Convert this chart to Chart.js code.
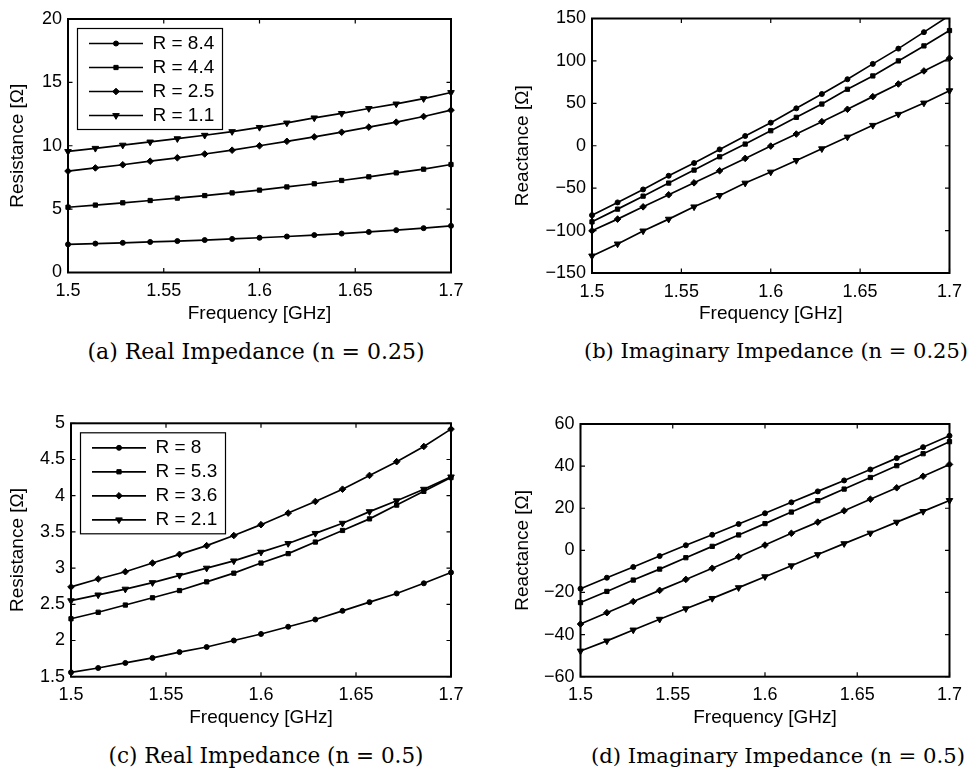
<!DOCTYPE html>
<html>
<head>
<meta charset="utf-8">
<script src="https://cdn.jsdelivr.net/npm/chart.js@4.4.1/dist/chart.umd.min.js"></script>
<style>
  html, body { margin: 0; padding: 0; background: #fff; }
  #page { position: relative; width: 970px; height: 776px; overflow: hidden; background: #fff; }
  .panel { position: absolute; }
  .panel canvas { display: block; }
  .caption {
    position: absolute; white-space: nowrap; color: #000;
    font-family: "DejaVu Serif", "Liberation Serif", serif; font-size: 21.5px;
    transform: translate(-50%, -50%);
  }
</style>
</head>
<body>
<div id="page">
  <div class="panel" style="left:0px;top:0px;"><canvas id="chartA" width="480" height="330"></canvas></div>
  <div class="panel" style="left:480px;top:0px;"><canvas id="chartB" width="490" height="330"></canvas></div>
  <div class="panel" style="left:0px;top:404px;"><canvas id="chartC" width="480" height="330"></canvas></div>
  <div class="panel" style="left:480px;top:404px;"><canvas id="chartD" width="490" height="330"></canvas></div>

  <div class="caption" style="left:256px;top:351px;font-size:22px;">(a) Real Impedance (n = 0.25)</div>
  <div class="caption" style="left:776px;top:351px;font-size:21px;">(b) Imaginary Impedance (n = 0.25)</div>
  <div class="caption" style="left:266px;top:755px;">(c) Real Impedance (n = 0.5)</div>
  <div class="caption" style="left:778px;top:755px;font-size:21.2px;">(d) Imaginary Impedance (n = 0.5)</div>
</div>

<script>
// Frequency sweep (GHz), 15 samples
const freqGHz = [1.5000, 1.5143, 1.5286, 1.5429, 1.5571, 1.5714, 1.5857, 1.6000,
                 1.6143, 1.6286, 1.6429, 1.6571, 1.6714, 1.6857, 1.7000];

// n = 0.25 : resistance [Ohm]
const resN025_R8_4 = [2.22, 2.28, 2.34, 2.41, 2.48, 2.56, 2.65, 2.74, 2.84, 2.95, 3.07, 3.20, 3.34, 3.50, 3.68];
const resN025_R4_4 = [5.15, 5.32, 5.50, 5.68, 5.87, 6.07, 6.28, 6.50, 6.75, 7.00, 7.26, 7.55, 7.86, 8.15, 8.52];
const resN025_R2_5 = [8.00, 8.25, 8.50, 8.78, 9.05, 9.35, 9.65, 10.00, 10.35, 10.70, 11.07, 11.47, 11.86, 12.31, 12.81];
const resN025_R1_1 = [9.55, 9.80, 10.05, 10.30, 10.56, 10.83, 11.12, 11.45, 11.80, 12.20, 12.55, 12.94, 13.30, 13.72, 14.20];

// n = 0.25 : reactance [Ohm]
const reacN025_R8_4 = [-81.8, -66.8, -51.5, -35.4, -20.4, -4.3, 11.5, 27.2, 44.1, 61.0, 78.4, 96.5, 114.5, 133.9, 153.5];
const reacN025_R4_4 = [-89.7, -74.7, -59.4, -44.0, -28.7, -13.0, 2.0, 17.7, 33.5, 49.2, 66.6, 82.3, 100.0, 117.7, 135.8];
const reacN025_R2_5 = [-100.3, -86.5, -72.0, -57.8, -43.7, -29.5, -14.9, -0.4, 13.8, 28.4, 43.0, 57.9, 72.8, 88.2, 103.2];
const reacN025_R1_1 = [-129.9, -115.7, -100.4, -86.5, -72.0, -58.6, -44.0, -31.0, -17.3, -3.5, 10.3, 24.1, 37.1, 50.4, 64.9];

// n = 0.5 : resistance [Ohm]
const resN05_R8   = [1.56, 1.62, 1.69, 1.76, 1.84, 1.91, 2.00, 2.09, 2.19, 2.29, 2.41, 2.53, 2.65, 2.79, 2.94];
const resN05_R5_3 = [2.30, 2.39, 2.49, 2.59, 2.69, 2.81, 2.93, 3.07, 3.20, 3.36, 3.52, 3.68, 3.87, 4.06, 4.25];
const resN05_R3_6 = [2.74, 2.85, 2.95, 3.07, 3.19, 3.31, 3.45, 3.60, 3.76, 3.92, 4.09, 4.28, 4.47, 4.68, 4.92];
const resN05_R2_1 = [2.55, 2.63, 2.71, 2.80, 2.90, 3.00, 3.10, 3.22, 3.34, 3.48, 3.62, 3.78, 3.93, 4.09, 4.26];

// n = 0.5 : reactance [Ohm]
const reacN05_R8   = [-18.2, -13.0, -7.9, -2.7, 2.4, 7.4, 12.5, 17.6, 22.8, 28.0, 33.2, 38.4, 43.8, 49.0, 54.4];
const reacN05_R5_3 = [-24.8, -19.5, -14.1, -8.9, -3.5, 1.9, 7.3, 12.7, 18.2, 23.6, 29.1, 34.6, 40.2, 45.9, 51.6];
const reacN05_R3_6 = [-35.0, -29.6, -24.3, -19.0, -13.8, -8.5, -3.0, 2.5, 8.1, 13.4, 18.8, 24.3, 29.7, 35.2, 40.8];
const reacN05_R2_1 = [-47.8, -43.0, -37.8, -32.7, -27.7, -22.8, -17.7, -12.5, -7.3, -2.0, 3.2, 8.2, 13.4, 18.5, 23.7];

// Legend labels
const labelsN025 = ['R = 8.4', 'R = 4.4', 'R = 2.5', 'R = 1.1'];
const labelsN05  = ['R = 8', 'R = 5.3', 'R = 3.6', 'R = 2.1'];

// Tick values
const freqTicks   = [1.5, 1.55, 1.6, 1.65, 1.7];
const resTicksA   = [0, 5, 10, 15, 20];
const reacTicksB  = [-150, -100, -50, 0, 50, 100, 150];
const resTicksC   = [1.5, 2, 2.5, 3, 3.5, 4, 4.5, 5];
const reacTicksD  = [-60, -40, -20, 0, 20, 40, 60];

const sansFamily = '"Liberation Sans", Arial, Helvetica, sans-serif';
Chart.defaults.font.family = sansFamily;
Chart.defaults.font.size = 18;
Chart.defaults.color = '#000';

// marker per series: circle, square, diamond, down-triangle
const markers = [
  { style: 'circle',   radius: 2.5, rotation: 0 },
  { style: 'rect',     radius: 3.0, rotation: 0 },
  { style: 'rectRot',  radius: 3.3, rotation: 0 },
  { style: 'triangle', radius: 3.8, rotation: 180 }
];

const fmtTick = (v) => String(Math.round(v * 1000) / 1000).replace('-', '\u2212');

// axes box with inward tick marks on all four sides
const boxAndTicks = {
  id: 'boxAndTicks',
  afterDatasetsDraw(chart) {
    const { ctx, chartArea: a } = chart;
    const xs = chart.scales.x, ys = chart.scales.y;
    const len = 4.5;
    ctx.save();
    ctx.strokeStyle = '#000';
    ctx.lineWidth = 1.2;
    ctx.beginPath();
    xs.ticks.forEach(t => {
      const p = xs.getPixelForValue(t.value);
      ctx.moveTo(p, a.bottom); ctx.lineTo(p, a.bottom - len);
      ctx.moveTo(p, a.top);    ctx.lineTo(p, a.top + len);
    });
    ys.ticks.forEach(t => {
      const p = ys.getPixelForValue(t.value);
      ctx.moveTo(a.left, p);  ctx.lineTo(a.left + len, p);
      ctx.moveTo(a.right, p); ctx.lineTo(a.right - len, p);
    });
    ctx.stroke();
    ctx.lineWidth = 2;
    ctx.strokeRect(a.left, a.top, a.right - a.left, a.bottom - a.top);
    ctx.restore();
  }
};

// boxed legend with line + marker samples
const lineLegend = {
  id: 'lineLegend',
  afterDraw(chart, args, opts) {
    if (!opts || !opts.display) return;
    const { ctx, chartArea: a } = chart;
    const x0 = a.left + opts.offsetX, y0 = a.top + opts.offsetY;
    ctx.save();
    ctx.fillStyle = '#fff';
    ctx.fillRect(x0, y0, opts.boxWidth, opts.boxHeight);
    ctx.strokeStyle = '#000';
    ctx.lineWidth = 1.2;
    ctx.strokeRect(x0, y0, opts.boxWidth, opts.boxHeight);
    chart.data.datasets.forEach((ds, i) => {
      const y = y0 + opts.firstRow + i * opts.rowGap;
      ctx.strokeStyle = '#000';
      ctx.fillStyle = '#000';
      ctx.lineWidth = ds.borderWidth;
      ctx.beginPath();
      ctx.moveTo(x0 + opts.lineStart, y);
      ctx.lineTo(x0 + opts.lineEnd, y);
      ctx.stroke();
      ctx.lineWidth = 1;
      Chart.helpers.drawPoint(ctx, {
        pointStyle: ds.pointStyle, radius: ds.pointRadius,
        rotation: ds.pointRotation, borderWidth: 1
      }, x0 + (opts.lineStart + opts.lineEnd) / 2, y);
      ctx.font = '19px ' + sansFamily;
      ctx.textAlign = 'left';
      ctx.textBaseline = 'middle';
      ctx.fillText(ds.label, x0 + opts.textX, y);
    });
    ctx.restore();
  }
};

function buildPanel(canvasId, geo, seriesList, labels, yTicks, yTitle, showLegend) {
  const datasets = seriesList.map((vals, i) => ({
    label: labels[i],
    data: vals.map((v, k) => ({ x: freqGHz[k], y: v })),
    borderColor: '#000',
    backgroundColor: '#000',
    borderWidth: 1.7,
    pointStyle: markers[i].style,
    pointRadius: markers[i].radius,
    pointRotation: markers[i].rotation,
    pointBackgroundColor: '#000',
    pointBorderColor: '#000',
    pointBorderWidth: 1,
    pointHoverRadius: markers[i].radius,
    tension: 0,
    clip: { left: 8, right: 8, top: 0, bottom: 4 }
  }));

  return new Chart(document.getElementById(canvasId), {
    type: 'line',
    data: { datasets },
    plugins: [boxAndTicks, lineLegend],
    options: {
      responsive: false,
      animation: false,
      events: [],
      layout: { padding: { top: geo.padTop, right: geo.padRight, left: 0, bottom: 0 } },
      plugins: {
        legend: { display: false },
        tooltip: { enabled: false },
        lineLegend: {
          display: showLegend,
          offsetX: 9.5, offsetY: 9.5,
          boxWidth: 145, boxHeight: 101,
          firstRow: 15, rowGap: 24,
          lineStart: 11.5, lineEnd: 65.5, textX: 75
        }
      },
      scales: {
        x: {
          type: 'linear',
          min: freqTicks[0], max: freqTicks[freqTicks.length - 1],
          afterBuildTicks: (s) => { s.ticks = freqTicks.map(v => ({ value: v })); },
          afterFit: (s) => { s.height = geo.xHeight; },
          grid: { display: false, drawTicks: false },
          border: { display: false },
          ticks: { padding: 8, maxRotation: 0, autoSkip: false, callback: fmtTick },
          title: { display: true, text: 'Frequency [GHz]', font: { size: 19 }, padding: { top: 0, bottom: 5 } }
        },
        y: {
          type: 'linear',
          min: yTicks[0], max: yTicks[yTicks.length - 1],
          afterBuildTicks: (s) => { s.ticks = yTicks.map(v => ({ value: v })); },
          afterFit: (s) => { s.width = geo.yWidth; },
          grid: { display: false, drawTicks: false },
          border: { display: false },
          ticks: { padding: 6, autoSkip: false, callback: fmtTick },
          title: { display: true, text: yTitle, font: { size: 19 }, padding: { top: geo.yTitlePad, bottom: 0 } }
        }
      }
    }
  });
}

buildPanel('chartA', { padTop: 19, padRight: 29, yWidth: 68, xHeight: 57.5, yTitlePad: 6.2 },
  [resN025_R8_4, resN025_R4_4, resN025_R2_5, resN025_R1_1], labelsN025, resTicksA, 'Resistance [Ω]', true);

buildPanel('chartB', { padTop: 18.5, padRight: 16, yWidth: 112, xHeight: 57, yTitlePad: 31.2 },
  [reacN025_R8_4, reacN025_R4_4, reacN025_R2_5, reacN025_R1_1], labelsN025, reacTicksB, 'Reactance [Ω]', false);

buildPanel('chartC', { padTop: 19.3, padRight: 29, yWidth: 71, xHeight: 57.3, yTitlePad: 6.2 },
  [resN05_R8, resN05_R5_3, resN05_R3_6, resN05_R2_1], labelsN05, resTicksC, 'Resistance [Ω]', true);

buildPanel('chartD', { padTop: 20, padRight: 16, yWidth: 100.5, xHeight: 57.3, yTitlePad: 31.2 },
  [reacN05_R8, reacN05_R5_3, reacN05_R3_6, reacN05_R2_1], labelsN05, reacTicksD, 'Reactance [Ω]', false);
</script>
</body>
</html>
